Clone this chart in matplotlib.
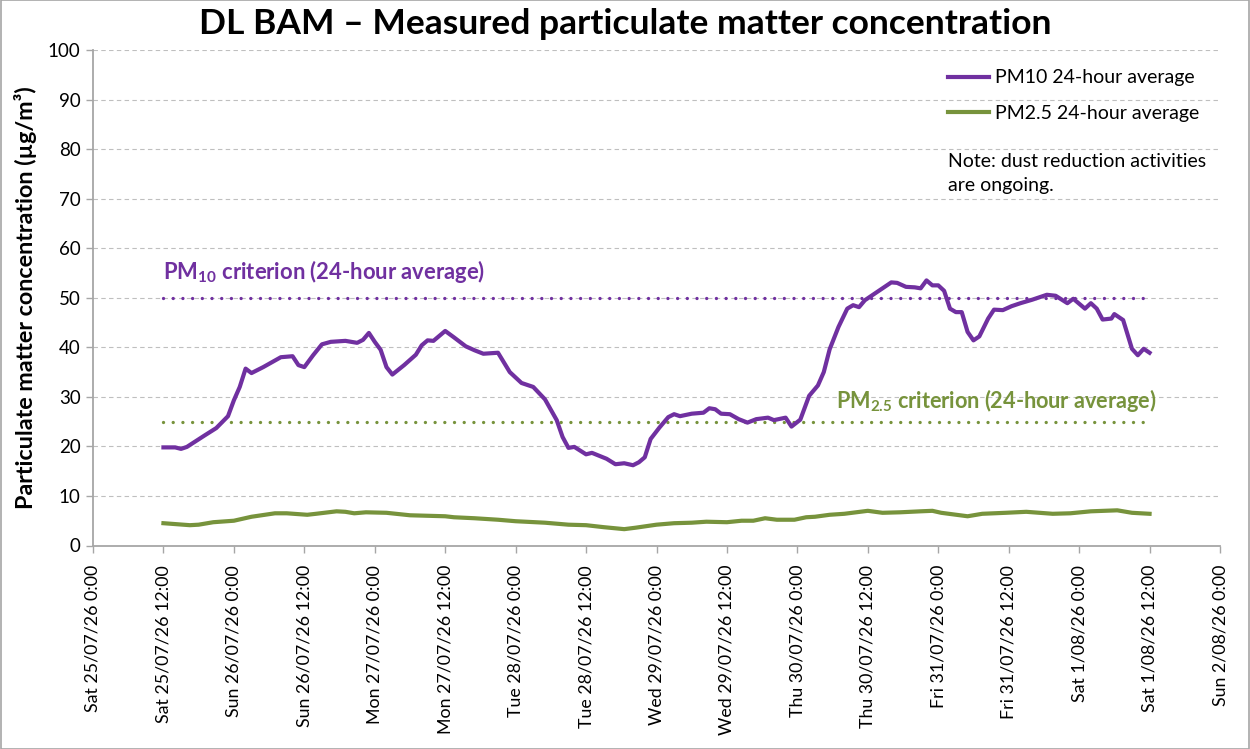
import datetime as dt

import matplotlib
matplotlib.use("Agg")
import matplotlib.pyplot as plt
import matplotlib.dates as mdates
from matplotlib.patches import Rectangle
from matplotlib.ticker import FuncFormatter, MultipleLocator

plt.rcParams["font.family"] = ["Lato", "DejaVu Sans"]
plt.rcParams["mathtext.fontset"] = "custom"
plt.rcParams["mathtext.rm"] = "Lato"
plt.rcParams["mathtext.bf"] = "Lato:bold"

START = dt.datetime(2026, 7, 25, 0, 0)

# hours since Sat 25/07/26 0:00
pm10_hours = [12, 14, 15, 16, 19, 21, 23, 24, 25, 26, 27, 29, 32, 34, 35, 36, 37.5,
              39, 40.5, 43, 45, 46, 47, 48, 49, 50, 51, 53, 55, 56, 57, 58, 60, 61.5,
              63.5, 65, 66.5, 69, 71, 73, 75, 77, 79, 80, 81, 82, 84, 85, 87.5, 89,
              90.5, 92, 93, 94, 95, 96.5, 98, 99, 100, 102, 104, 105, 106, 107, 108.5,
              110, 111.5, 113, 115, 116, 118, 119, 120.5, 122, 123.5, 124.5, 125.5,
              127, 128.5, 129.5, 130.5, 131.5, 134, 136, 137, 138.5, 140, 141, 142,
              143, 144, 145, 146, 147, 148, 149, 150, 151, 152.5, 153.5, 155, 156.5,
              158, 160, 162.5, 164, 166, 167, 169, 170, 171, 172, 173.5, 174, 175.5,
              177, 178, 179, 180]
pm10_values = [19.8, 19.8, 19.5, 19.9, 22.2, 23.7, 26.1, 29.3, 32.0, 35.7, 34.8, 36.0,
               38.0, 38.2, 36.4, 36.0, 38.4, 40.6, 41.1, 41.3, 40.9, 41.5, 42.9, 41.1,
               39.5, 36.0, 34.5, 36.4, 38.5, 40.4, 41.4, 41.3, 43.3, 42.0, 40.2, 39.4,
               38.7, 38.9, 35.0, 32.8, 32.0, 29.5, 25.3, 21.9, 19.7, 19.9, 18.4, 18.7,
               17.5, 16.4, 16.6, 16.2, 16.8, 17.8, 21.5, 23.8, 25.9, 26.5, 26.1, 26.6,
               26.8, 27.7, 27.5, 26.6, 26.5, 25.5, 24.8, 25.5, 25.8, 25.3, 25.8, 24.0,
               25.4, 30.2, 32.3, 35.0, 39.6, 44.1, 47.8, 48.5, 48.1, 49.5, 51.5, 53.1,
               53.0, 52.2, 52.1, 51.9, 53.5, 52.5, 52.5, 51.4, 47.8, 47.1, 47.1, 43.1,
               41.4, 42.2, 45.8, 47.6, 47.5, 48.3, 48.9, 49.6, 50.6, 50.4, 48.9, 49.8,
               47.8, 48.9, 47.8, 45.6, 45.8, 46.7, 45.5, 39.7, 38.4, 39.7, 38.9]

pm25_hours = [12, 16.5, 18, 20.5, 24, 27, 31, 33, 36.5, 38, 41.5, 43, 44.5, 46.5, 50,
              54, 60, 61.5, 65, 69, 72, 77, 81, 84, 87, 90.5, 92.5, 96, 99, 102, 104.5,
              108, 110.5, 112.5, 114.5, 116.5, 119.5, 121.5, 123, 125.5, 128, 132,
              134.5, 137.5, 141, 143, 144.5, 149, 151.5, 155.5, 159, 163.5, 166.5, 170,
              174.5, 177, 180]
pm25_values = [4.5, 4.1, 4.2, 4.7, 5.0, 5.8, 6.5, 6.5, 6.2, 6.4, 6.9, 6.8, 6.5, 6.7,
               6.6, 6.1, 5.9, 5.7, 5.5, 5.2, 4.9, 4.6, 4.2, 4.1, 3.7, 3.3, 3.6, 4.2,
               4.5, 4.6, 4.8, 4.7, 5.0, 5.0, 5.5, 5.2, 5.2, 5.7, 5.8, 6.2, 6.4, 7.0,
               6.6, 6.7, 6.9, 7.0, 6.6, 5.9, 6.4, 6.6, 6.8, 6.4, 6.5, 6.9, 7.1, 6.6,
               6.4]

PM10_CRITERION = 50
PM25_CRITERION = 25
criterion_span = [12, 180]

PURPLE = "#7030A0"
GREEN = "#77933C"


def to_time(hours):
    return [START + dt.timedelta(hours=h) for h in hours]


def fmt_tick(x, pos):
    d = mdates.num2date(x)
    return "%s %d/%02d/%02d %d:%02d" % (d.strftime("%a"), d.day, d.month,
                                        d.year % 100, d.hour, d.minute)


fig = plt.figure(figsize=(12.5, 7.49), dpi=100)
ax = fig.add_axes([93 / 1250, 1 - 545.5 / 749, (1220 - 93) / 1250, 495.5 / 749])

span_t = to_time(criterion_span)
dot = dict(lw=2.4, linestyle=(0, (0.01, 2.9)), dash_capstyle="round", zorder=2)
ax.plot(span_t, [PM10_CRITERION] * 2, color=PURPLE, **dot)
ax.plot(span_t, [PM25_CRITERION] * 2, color=GREEN, **dot)

ax.plot(to_time(pm10_hours), pm10_values, color=PURPLE, lw=3.0,
        solid_joinstyle="round", label="PM10 24-hour average", zorder=3)
ax.plot(to_time(pm25_hours), pm25_values, color=GREEN, lw=3.0,
        solid_joinstyle="round", label="PM2.5 24-hour average", zorder=3)

ax.text(to_time([12])[0], 55.3, r"PM$_{\mathbf{10}}$ criterion (24-hour average)",
        color=PURPLE, fontsize=15.8, fontweight="bold", ha="left", va="center")
ax.text(to_time([181.2])[0], 29.2, r"PM$_{\mathbf{2.5}}$ criterion (24-hour average)",
        color=GREEN, fontsize=15.6, fontweight="bold", ha="right", va="center")

ax.set_xlim(START, START + dt.timedelta(days=8))
ax.set_ylim(0, 100)
ax.xaxis.set_major_locator(mdates.HourLocator(byhour=[0, 12]))
ax.xaxis.set_major_formatter(FuncFormatter(fmt_tick))
ax.yaxis.set_major_locator(MultipleLocator(10))
plt.setp(ax.get_xticklabels(), rotation=90, ha="center", va="top")
ax.tick_params(axis="both", labelsize=13, color="#A6A6A6", length=5, width=1,
               direction="out")
ax.tick_params(axis="x", labelsize=12.8, pad=9)
ax.tick_params(axis="y", labelsize=13.5, pad=4)

ax.grid(True, axis="y", color="#BFBFBF", ls=(0, (4, 3)), lw=0.8)
ax.set_axisbelow(True)
for side in ("top", "right"):
    ax.spines[side].set_visible(False)
for side in ("left", "bottom"):
    ax.spines[side].set_color("#A6A6A6")
    ax.spines[side].set_linewidth(1.3)

ax.set_ylabel("Particulate matter concentration (µg/m³)", fontsize=16.8,
              fontweight="bold", labelpad=8)
fig.text(0.5, 1 - 24 / 749, "DL BAM – Measured particulate matter concentration",
         fontsize=25.5, fontweight="bold", ha="center", va="center")

ax.legend(loc="upper left", bbox_to_anchor=(0.743, 0.996), frameon=False,
          fontsize=14, handlelength=2.1, handletextpad=0.3, labelspacing=0.95)
ax.text(0.759, 0.751, "Note: dust reduction activities\nare ongoing.",
        transform=ax.transAxes, fontsize=14, ha="left", va="center",
        linespacing=1.55)

fig.patches.append(Rectangle((0.0005, 0.0005), 0.999, 0.999, transform=fig.transFigure,
                             fill=False, edgecolor="#A6A6A6", lw=1.2))

fig.savefig("out.png", dpi=100, facecolor="white")
